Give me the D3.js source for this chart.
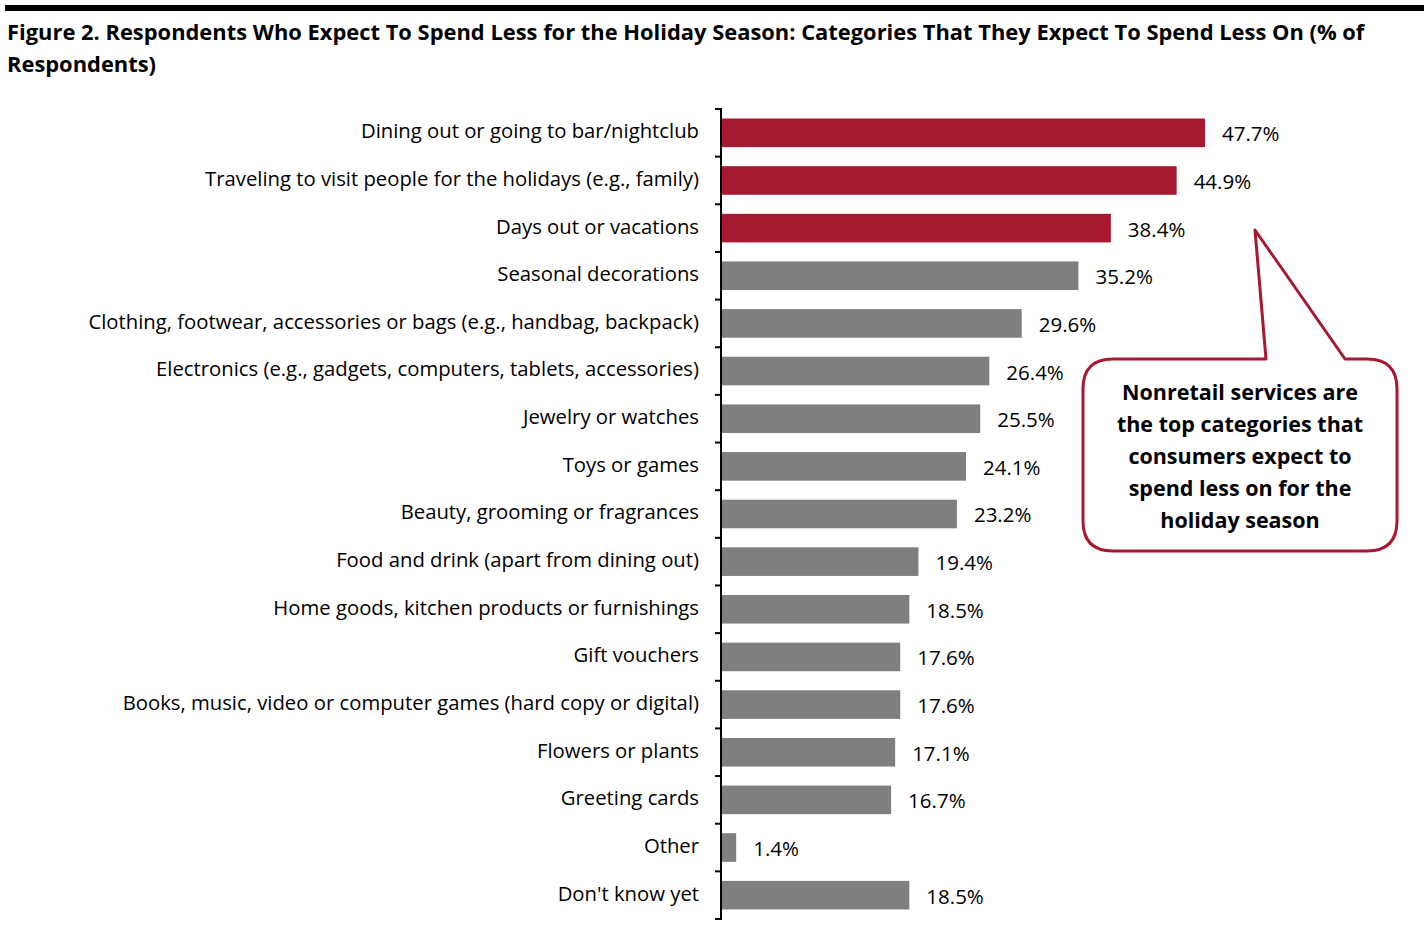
<!DOCTYPE html>
<html><head><meta charset="utf-8">
<script src="https://cdn.jsdelivr.net/npm/d3@7"></script>
<style>body{margin:0;background:#fff}svg{display:block}</style>
</head><body>
<script>
const categories = [
  "Dining out or going to bar/nightclub",
  "Traveling to visit people for the holidays (e.g., family)",
  "Days out or vacations",
  "Seasonal decorations",
  "Clothing, footwear, accessories or bags (e.g., handbag, backpack)",
  "Electronics (e.g., gadgets, computers, tablets, accessories)",
  "Jewelry or watches",
  "Toys or games",
  "Beauty, grooming or fragrances",
  "Food and drink (apart from dining out)",
  "Home goods, kitchen products or furnishings",
  "Gift vouchers",
  "Books, music, video or computer games (hard copy or digital)",
  "Flowers or plants",
  "Greeting cards",
  "Other",
  "Don't know yet"
];
const values = [47.7, 44.9, 38.4, 35.2, 29.6, 26.4, 25.5, 24.1, 23.2, 19.4, 18.5, 17.6, 17.6, 17.1, 16.7, 1.4, 18.5];
const highlighted = ["Dining out or going to bar/nightclub","Traveling to visit people for the holidays (e.g., family)","Days out or vacations"];
const titleLines = ["Figure 2. Respondents Who Expect To Spend Less for the Holiday Season: Categories That They Expect To Spend Less On (% of","Respondents)"];
const calloutLines = ["Nonretail services are","the top categories that","consumers expect to","spend less on for the","holiday season"];

const W = 1424, H = 932;
const svg = d3.select("body").append("svg").attr("width", W).attr("height", H);
const font = "'Open Sans', Lato, sans-serif";

svg.append("rect").attr("x",5).attr("y",5).attr("width",W-5).attr("height",6).attr("fill","#000");
svg.selectAll("text.title").data(titleLines).join("text")
  .attr("x",7).attr("y",(d,i)=>40+i*32)
  .attr("font-family",font).attr("font-weight","bold").attr("font-size",21.9).attr("fill","#000")
  .text(d=>d);

const x0 = 722;
const x = d3.scaleLinear().domain([0, 47.7]).range([x0, 1205]);
const y = d3.scaleBand().domain(categories).range([109, 919]).paddingInner(0.4).paddingOuter(0.2);

svg.selectAll("rect.bar").data(categories).join("rect")
  .attr("x", x(0)).attr("y", d=>y(d))
  .attr("width", (d,i)=>x(values[i])-x(0)).attr("height", y.bandwidth())
  .attr("fill", d=>highlighted.includes(d) ? "#a6192e" : "#7f7f7f");

svg.selectAll("text.val").data(categories).join("text")
  .attr("x",(d,i)=>x(values[i])+17).attr("y",d=>y(d)+y.bandwidth()/2+3)
  .attr("dominant-baseline","middle")
  .attr("font-family",font).attr("font-size",20.5).attr("fill","#000")
  .text((d,i)=>values[i].toFixed(1)+"%");

// axis
const axisG = svg.append("g");
axisG.append("line").attr("x1",x0-1).attr("x2",x0-1).attr("y1",109).attr("y2",919).attr("stroke","#000").attr("stroke-width",2);
const ticks = d3.range(categories.length+1).map(i=>109 + i*(810/categories.length));
axisG.selectAll("line.t").data(ticks).join("line")
  .attr("x1",715).attr("x2",x0).attr("y1",d=>d).attr("y2",d=>d).attr("stroke","#000").attr("stroke-width",2);

svg.selectAll("text.cat").data(categories).join("text")
  .attr("x",699).attr("y",d=>y(d)+y.bandwidth()/2)
  .attr("text-anchor","end").attr("dominant-baseline","middle")
  .attr("font-family",font).attr("font-size",20.3).attr("fill","#000")
  .text(d=>d);

// callout
const bx=1083, by=359, bw=314, bh=192, r=30;
const p = `M${bx+r},${by} L1266,${by} L1255,230 L1345,${by} L${bx+bw-r},${by} Q${bx+bw},${by} ${bx+bw},${by+r} L${bx+bw},${by+bh-r} Q${bx+bw},${by+bh} ${bx+bw-r},${by+bh} L${bx+r},${by+bh} Q${bx},${by+bh} ${bx},${by+bh-r} L${bx},${by+r} Q${bx},${by} ${bx+r},${by} Z`;
svg.append("path").attr("d",p).attr("fill","#fff").attr("stroke","#a6192e").attr("stroke-width",3).attr("stroke-linejoin","round");
svg.selectAll("text.call").data(calloutLines).join("text")
  .attr("x",1240).attr("y",(d,i)=>400+i*32)
  .attr("text-anchor","middle")
  .attr("font-family",font).attr("font-weight","bold").attr("font-size",21.5).attr("fill","#000")
  .text(d=>d);
</script>
</body></html>
